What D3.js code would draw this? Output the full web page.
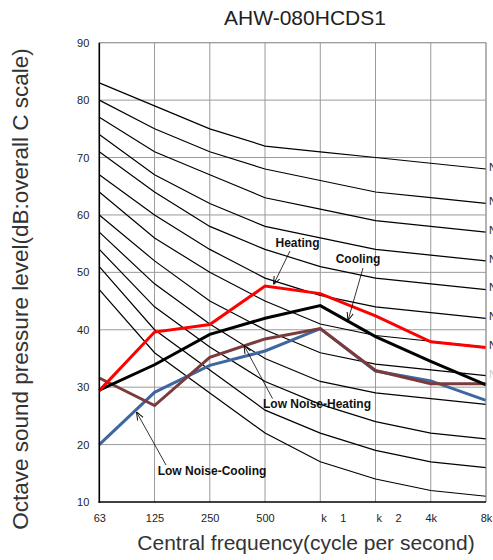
<!DOCTYPE html>
<html><head><meta charset="utf-8">
<script src="https://cdn.jsdelivr.net/npm/d3@7"></script>
<style>
html,body{margin:0;padding:0;background:#fff;}
svg{display:block;font-family:"Liberation Sans",Arial,sans-serif;}
</style></head>
<body><svg id="c" width="493" height="560"></svg>
<script>
const freqs = ["63","125","250","500","1k","2k","4k","8k"];
const freqLabels = ["63","125","250","500","k 1","k 2","4k","8k"];
const yTicks = [10,20,30,40,50,60,70,80,90];

const ncNames = ["NC-70","NC-65","NC-60","NC-55","NC-50","NC-45","NC-40","NC-35","NC-30","NC-25","NC-20","NC-15"];
const nc70 = [83,79,75,72,71,70,69,68];
const nc65 = [80,75,71,68,66,64,63,62];
const nc60 = [77,71,67,63,61,59,58,57];
const nc55 = [74,67,62,58,56,54,53,52];
const nc50 = [71,64,58,54,51,49,48,47];
const nc45 = [67,60,54,49,46,44,43,42];
const nc40 = [64,56,50,45,41,39,38,37];
const nc35 = [60,52,45,40,36,34,33,32];
const nc30 = [57,48,41,35,31,29,28,27];
const nc25 = [54,44,37,31,27,24,22,21];
const nc20 = [51,40,33,26,22,19,17,16];
const nc15 = [47,36,29,22,17,14,12,11];
const ncCurves = [nc70,nc65,nc60,nc55,nc50,nc45,nc40,nc35,nc30,nc25,nc20,nc15];

const heating = [29.4,39.6,40.9,47.6,46.3,42.4,37.9,36.9];
const cooling = [29.5,33.9,39.2,42.0,44.2,38.8,34.5,30.4];
const lowNoiseHeating = [31.6,26.8,35.2,38.4,40.2,32.9,30.6,30.6];
const lowNoiseCooling = [20.0,29.1,33.8,36.3,40.2,32.8,31.1,27.7];

const svg = d3.select("#c");
const L = 99.3, R = 486, T = 42.7, B = 502;
const x = d3.scalePoint().domain(freqs).range([L, R]);
const y = d3.scaleLinear().domain([10, 90]).range([B, T]);

// grid
const g = svg.append("g");
g.selectAll("line.v").data(freqs.slice(1)).join("line")
  .attr("x1", d => x(d)).attr("x2", d => x(d)).attr("y1", T).attr("y2", B)
  .attr("stroke", "#9a9a9a").attr("stroke-width", 1);
g.selectAll("line.h").data(yTicks.slice(1)).join("line")
  .attr("x1", L).attr("x2", R).attr("y1", d => y(d)).attr("y2", d => y(d))
  .attr("stroke", "#9a9a9a").attr("stroke-width", 1);

// NC curves
const line = d3.line().x((d, i) => x(freqs[i])).y(d => y(d));
svg.append("g").selectAll("path").data(ncCurves).join("path")
  .attr("d", line).attr("fill", "none").attr("stroke", "#000").attr("stroke-width", 1.2);

// NC labels (clipped by the right edge, as in the reference)
svg.append("g").selectAll("text").data(ncNames.slice(0, 8)).join("text")
  .attr("x", R + 3).attr("y", (d, i) => y(ncCurves[i][7]) - 1)
  .attr("dominant-baseline", "middle").attr("font-size", 11)
  .attr("fill", (d, i) => i === 7 ? "#ccc" : "#222").text(d => d);

// series
const series = [
  {v: lowNoiseCooling, c: "#3e67a0"},
  {v: lowNoiseHeating, c: "#7b3b3b"},
  {v: cooling, c: "#000"},
  {v: heating, c: "#ff0000"}
];
svg.append("g").selectAll("path").data(series).join("path")
  .attr("d", d => line(d.v)).attr("fill", "none").attr("stroke", d => d.c)
  .attr("stroke-width", 3).attr("stroke-linejoin", "miter");

// axes
const yAxis = d3.axisLeft(y).tickValues(yTicks).tickSize(0).tickPadding(10);
const ya = svg.append("g").attr("transform", `translate(${L},0)`).call(yAxis);
ya.select(".domain").remove();
ya.selectAll("text").attr("font-size", 11).attr("fill", "#222").attr("font-family", "Liberation Sans, Arial, sans-serif");

const xAxis = d3.axisBottom(x).tickSize(0).tickPadding(12).tickFormat((d, i) => freqLabels[i]);
const xa = svg.append("g").attr("transform", `translate(0,${B})`).call(xAxis);
xa.select(".domain").remove();
xa.selectAll("text").attr("font-size", 11).attr("fill", "#222").attr("font-family", "Liberation Sans, Arial, sans-serif")
  .each(function(d, i) {
    const lab = freqLabels[i];
    if (lab.includes(" ")) {
      const parts = lab.split(" ");
      const t = d3.select(this).text("").attr("text-anchor", "start");
      t.append("tspan").attr("x", 0.5).text(parts[0]);
      t.append("tspan").attr("x", 19.5).text(parts[1]);
    }
  });

// frame
svg.append("line").attr("x1", L).attr("x2", R).attr("y1", T).attr("y2", T).attr("stroke", "#9a9a9a");
svg.append("line").attr("x1", R).attr("x2", R).attr("y1", T).attr("y2", B).attr("stroke", "#9a9a9a");
svg.append("line").attr("x1", L).attr("x2", L).attr("y1", T).attr("y2", B + 0.7).attr("stroke", "#000").attr("stroke-width", 1.6);
svg.append("line").attr("x1", L - 0.8).attr("x2", R).attr("y1", B).attr("y2", B).attr("stroke", "#000").attr("stroke-width", 1.6);

// titles
svg.append("text").attr("x", 305).attr("y", 25).attr("text-anchor", "middle")
  .attr("font-size", 21).attr("fill", "#222").text("AHW-080HCDS1");
svg.append("text").attr("x", 306).attr("y", 550).attr("text-anchor", "middle")
  .attr("font-size", 21).attr("fill", "#333").text("Central frequency(cycle per second)");
svg.append("text").attr("transform", "translate(28,289) rotate(-90)").attr("text-anchor", "middle")
  .attr("font-size", 22.5).attr("fill", "#333").text("Octave sound pressure level(dB:overall C scale)");

// annotations
const defs = svg.append("defs");
defs.append("marker").attr("id", "arr").attr("viewBox", "0 0 10 10").attr("refX", 10).attr("refY", 5)
  .attr("markerWidth", 8).attr("markerHeight", 8).attr("markerUnits", "userSpaceOnUse").attr("orient", "auto")
  .append("path").attr("d", "M0,1 L10,5 L0,9").attr("fill", "none").attr("stroke", "#000").attr("stroke-width", 1.2);

const notes = [
  {t: "Heating", tx: 297.5, ty: 244, x1: 290, y1: 251, x2: 273.5, y2: 284.5},
  {t: "Cooling", tx: 358, ty: 260, x1: 363, y1: 268, x2: 348, y2: 320.5},
  {t: "Low Noise-Heating", tx: 317, ty: 405, x1: 272.5, y1: 398.5, x2: 244, y2: 345.5},
  {t: "Low Noise-Cooling", tx: 212, ty: 471.5, x1: 166, y1: 465, x2: 136.5, y2: 412}
];
const an = svg.append("g");
an.selectAll("line").data(notes).join("line")
  .attr("x1", d => d.x1).attr("y1", d => d.y1).attr("x2", d => d.x2).attr("y2", d => d.y2)
  .attr("stroke", "#000").attr("stroke-width", 0.8).attr("marker-end", "url(#arr)");
an.selectAll("text").data(notes).join("text")
  .attr("x", d => d.tx).attr("y", d => d.ty).attr("text-anchor", "middle").attr("dominant-baseline", "middle")
  .attr("font-size", 12).attr("font-weight", "bold").attr("fill", "#111").text(d => d.t);
</script></body></html>
